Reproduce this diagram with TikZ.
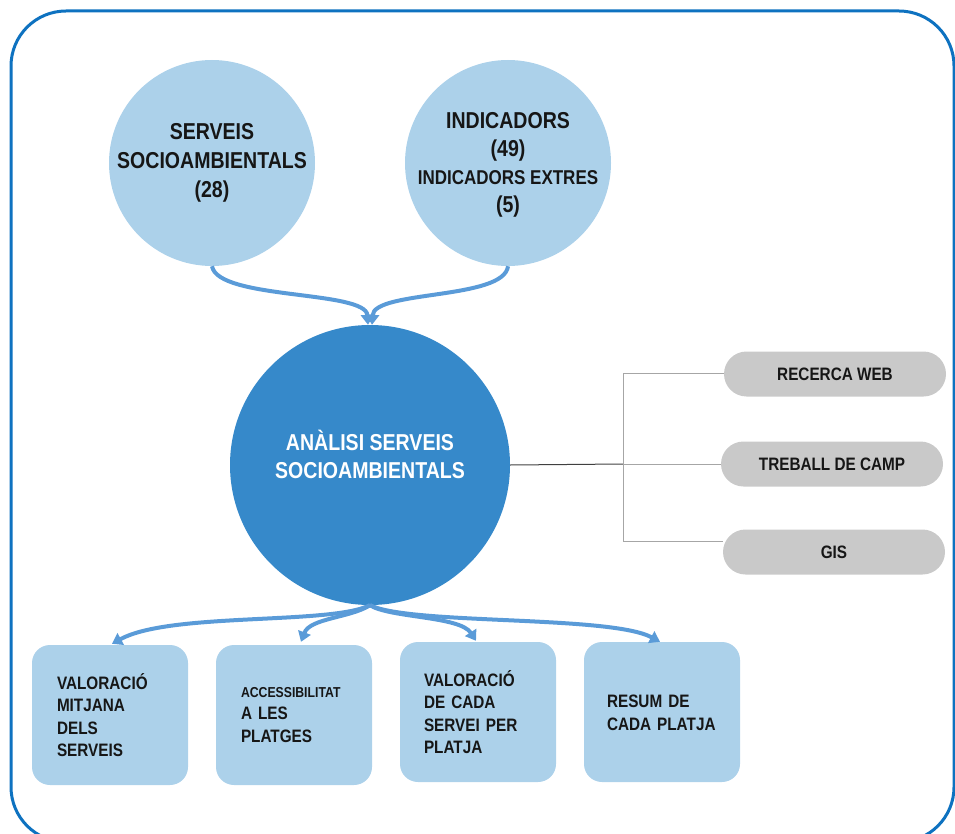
\documentclass[tikz,border=0pt]{standalone}
\usepackage{fontspec}
\setmainfont{Liberation Sans}[FakeStretch=0.85]
\usetikzlibrary{arrows.meta}
\definecolor{frameblue}{HTML}{0E72C0}
\definecolor{lightblue}{HTML}{ACD1EA}
\definecolor{midblue}{HTML}{3689CA}
\definecolor{arrowblue}{HTML}{5A9BD8}
\definecolor{pillgray}{HTML}{C9C9C9}
\definecolor{txt}{HTML}{161616}
\definecolor{branchgray}{HTML}{A6A6A6}
\tikzset{
  bubble/.style={circle, fill=lightblue, minimum size=206pt, inner sep=0pt, align=center,
    text=txt, font=\bfseries\fontsize{23}{29}\selectfont},
  hub/.style={circle, fill=midblue, minimum size=280pt, inner sep=0pt},
  hubtxt/.style={align=center, text=white, inner sep=0pt, font=\bfseries\fontsize{23}{28}\selectfont},
  pill/.style={rectangle, rounded corners=22.5pt, fill=pillgray, minimum width=222pt,
    minimum height=45pt, inner sep=0pt, text=txt, font=\bfseries\fontsize{18}{22}\selectfont},
  outbox/.style={rectangle, rounded corners=18pt, fill=lightblue, minimum width=156pt,
    minimum height=140pt, inner sep=0pt},
  boxtxt/.style={text width=110pt, align=left, inner sep=0pt, text=txt,
    font=\bfseries\fontsize{18}{22.5}\selectfont},
  flow/.style={arrowblue, line width=4pt, -{Triangle[length=10pt,width=13pt]}},
  branch/.style={branchgray, line width=1pt},
  stem/.style={black!75, line width=1pt}
}
\begin{document}
\begin{tikzpicture}[x=1pt,y=-1pt]
\useasboundingbox (0,0) rectangle (955,834);
\clip (0,0) rectangle (955,834);
\draw[frameblue, line width=3pt, rounded corners=55pt] (11,11) rectangle (954,842);

% top bubbles
\node[bubble] (c1) at (212,163) {SERVEIS\\SOCIOAMBIENTALS\\(28)};
\node[bubble] (c2) at (508,163) {};
\node[align=center, text=txt, inner sep=0pt, font=\bfseries\fontsize{23}{28}\selectfont] (c2t) at (508,165)
  {INDICADORS\\(49)\\{\fontsize{20}{28}\selectfont INDICADORS EXTRES}\\(5)};

% hub
\node[hub] (hub) at (370,465) {};
\node[hubtxt] (hubt) at (370,454) {ANÀLISI SERVEIS\\SOCIOAMBIENTALS};

% top arrows
\draw[flow] (c1.south) .. controls (218,300) and (366,290) .. ([xshift=-2pt]hub.north);
\draw[flow] (c2.south) .. controls (504,300) and (374,290) .. ([xshift=2pt]hub.north);

% pills
\node[pill] (p1) at (835,374) {RECERCA WEB};
\node[pill] (p2) at (832,464) {TREBALL DE CAMP};
\node[pill] (p3) at (834,552) {GIS};
\coordinate (j) at (623,464);
\draw[stem] (hub.east) -- (j);
\draw[branch] ([yshift=1pt]p1.west) -| (j);
\draw[branch] ([yshift=11pt]p3.west) -| (j);
\draw[branch] (j) -- (p2.west);

% bottom boxes
\node[outbox] (b1) at (110,715) {};
\node[outbox] (b2) at (294,715) {};
\node[outbox] (b3) at (478,712) {};
\node[outbox] (b4) at (662,712) {};
\node[boxtxt] (b1t) at (112,715) {VALORACIÓ\\MITJANA\\DELS\\SERVEIS};
\node[boxtxt] (b2t) at (296,715) {{\fontsize{14.4}{22.5}\selectfont ACCESSIBILITAT}\\A LES\\PLATGES};
\node[boxtxt] (b3t) at (479,712) {VALORACIÓ\\DE CADA\\SERVEI PER\\PLATJA};
\node[boxtxt] (b4t) at (662,713) {RESUM DE\\CADA PLATJA};

% bottom arrows
\draw[flow] (hub.south) .. controls (330,625) and (170,612) .. ([xshift=2pt,yshift=1pt]b1.north);
\draw[flow] (hub.south) .. controls (350,618) and (310,618) .. ([xshift=7pt,yshift=3pt]b2.north);
\draw[flow] (hub.south) .. controls (390,618) and (460,616) .. ([xshift=-2pt,yshift=1pt]b3.north);
\draw[flow] (hub.south) .. controls (410,625) and (610,615) .. ([xshift=-2pt]b4.north);
\end{tikzpicture}
\end{document}
